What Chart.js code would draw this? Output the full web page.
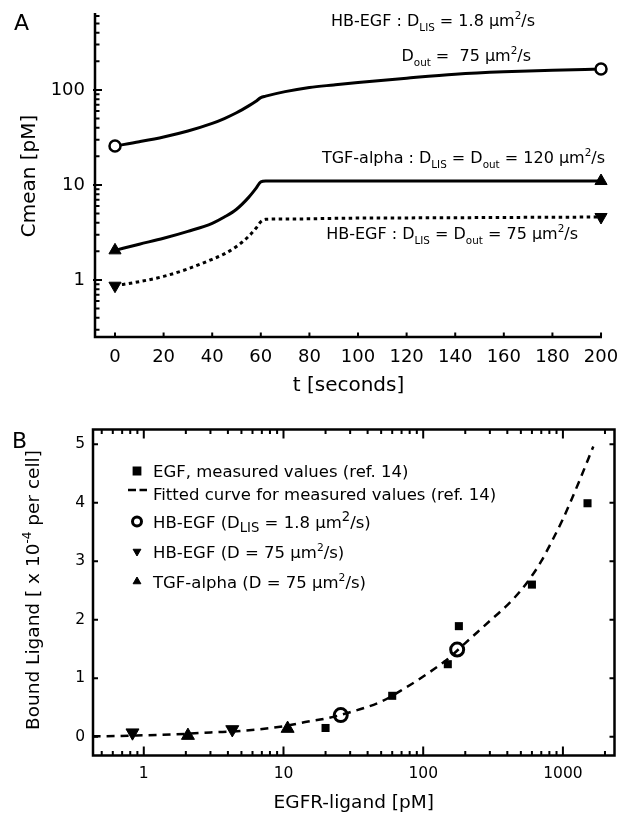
<!DOCTYPE html>
<html>
<head>
<meta charset="utf-8">
<script src="https://cdn.jsdelivr.net/npm/chart.js@4.4.0/dist/chart.umd.min.js"></script>
<style>
body{margin:0;background:#fff;}
#wrap{position:relative;width:624px;height:813px;}
canvas{position:absolute;left:0;}
#cA{top:0;width:624px;height:400px;}
#cB{top:400px;width:624px;height:413px;}
</style>
</head>
<body>
<div id="wrap">
<canvas id="cA" width="624" height="400"></canvas>
<canvas id="cB" width="624" height="413"></canvas>
</div>
<script>
// ---- panel A : Cmean vs time ----
var timeA   = [0, 10, 20, 30, 40, 45, 50, 55, 58, 60, 62, 70, 80, 90, 100, 120, 140, 160, 180, 200];
var hbSlowA = [25.7, 28.5, 32, 37, 44.5, 50, 57.5, 68, 76, 83, 86, 96, 106, 113, 120, 133, 146, 155, 161, 166];
var tgfA    = [2.05, 2.38, 2.75, 3.25, 3.95, 4.6, 5.55, 7.4, 9.2, 10.8, 11, 11, 11, 11, 11, 11, 11, 11, 11, 11];
var hbFastA = [0.87, 0.96, 1.09, 1.31, 1.65, 1.88, 2.25, 2.88, 3.5, 4.1, 4.35, 4.38, 4.4, 4.45, 4.48, 4.5, 4.52, 4.55, 4.57, 4.6];
var xTicksA = [0, 20, 40, 60, 80, 100, 120, 140, 160, 180, 200];
var yTicksA = [1, 10, 100];

// ---- panel B : bound ligand vs EGFR-ligand ----
var egfX    = [20, 60, 150, 180, 600, 1500];
var egfY    = [0.15, 0.70, 1.24, 1.89, 2.60, 3.99];
var fitX    = [0.43, 0.5, 1, 2, 3, 5, 10, 15, 20, 30, 50, 75, 100, 150, 200, 300, 400, 500, 600, 700, 850, 1000, 1300, 1650];
var fitY    = [0.01, 0.01, 0.025, 0.05, 0.075, 0.10, 0.18, 0.26, 0.31, 0.42, 0.60, 0.84, 1.03, 1.33, 1.60, 1.98, 2.25, 2.5, 2.75, 3.0, 3.38, 3.72, 4.35, 4.96];
var hbSlowX = [25.7, 175];
var hbSlowY = [0.37, 1.49];
var hbFastX = [0.83, 4.3];
var hbFastY = [0.07, 0.125];
var tgfX    = [2.07, 10.7];
var tgfY    = [0.02, 0.14];
var xTicksB = [1, 10, 100, 1000];
var yTicksB = [0, 1, 2, 3, 4, 5];

Chart.defaults.font.family = 'DejaVu Sans';
Chart.defaults.color = '#000';

function pts(xs, ys) {
    return xs.map(function (x, i) { return {x: x, y: ys[i]}; });
}
function ends(r, n) {
    return function (c) { return (c.dataIndex === 0 || c.dataIndex === n - 1) ? r : 0; };
}
function noPad(s) {
    s.paddingTop = 0; s.paddingBottom = 0; s.paddingLeft = 0; s.paddingRight = 0;
}

// text with sub/superscripts
function rich(ctx, parts, x, y, size, align, subScale) {
    subScale = subScale || 0.65;
    var fonts = parts.map(function (p) {
        return (p[1] ? size * subScale : size) + 'px "DejaVu Sans"';
    });
    var w = parts.map(function (p, i) { ctx.font = fonts[i]; return ctx.measureText(p[0]).width; });
    var total = w.reduce(function (a, b) { return a + b; }, 0);
    var cx = align === 'right' ? x - total : (align === 'center' ? x - total / 2 : x);
    ctx.textAlign = 'left';
    ctx.textBaseline = 'alphabetic';
    parts.forEach(function (p, i) {
        ctx.font = fonts[i];
        var dy = p[1] === 'sub' ? size * 0.3 : (p[1] === 'sup' ? -size * 0.42 : 0);
        ctx.fillText(p[0], cx, y + dy);
        cx += w[i];
    });
}

function logTicks(lo, hi) {
    var out = [];
    for (var e = -2; e <= 4; e++) {
        for (var k = 1; k <= 9; k++) {
            var v = k * Math.pow(10, e);
            if (v >= lo && v <= hi) out.push({v: v, major: k === 1});
        }
    }
    return out;
}

var axesA = {
    id: 'axesA',
    afterDraw: function (chart) {
        var ctx = chart.ctx, a = chart.chartArea;
        var sx = chart.scales.x, sy = chart.scales.y;
        ctx.save();
        ctx.strokeStyle = '#000';
        ctx.lineWidth = 2.5;
        ctx.beginPath();
        ctx.moveTo(a.left, a.top - 2);
        ctx.lineTo(a.left, a.bottom);
        ctx.lineTo(a.right, a.bottom);
        ctx.stroke();
        ctx.lineWidth = 2;
        ctx.beginPath();
        logTicks(sy.min, sy.max).forEach(function (t) {
            var y = sy.getPixelForValue(t.v);
            ctx.moveTo(a.left - (t.major ? 2 : 0), y);
            ctx.lineTo(a.left + (t.major ? 7 : 4.5), y);
        });
        xTicksA.forEach(function (v) {
            var x = sx.getPixelForValue(v);
            ctx.moveTo(x, a.bottom);
            ctx.lineTo(x, a.bottom - 4.5);
        });
        ctx.stroke();

        ctx.fillStyle = '#000';
        ctx.font = '22px "DejaVu Sans"';
        ctx.textAlign = 'left';
        ctx.textBaseline = 'alphabetic';
        ctx.fillText('A', 14, 30);

        ctx.font = '20px "DejaVu Sans"';
        ctx.textAlign = 'center';
        ctx.fillText('t [seconds]', (a.left + a.right) / 2, 391);
        ctx.save();
        ctx.translate(35, (a.top + a.bottom) / 2);
        ctx.rotate(-Math.PI / 2);
        ctx.fillText('Cmean [pM]', 0, 0);
        ctx.restore();

        rich(ctx, [['HB-EGF : D'], ['LIS', 'sub'], [' = 1.8 \u03bcm'], ['2', 'sup'], ['/s']], 535, 26, 16, 'right');
        rich(ctx, [['D'], ['out', 'sub'], [' =  75 \u03bcm'], ['2', 'sup'], ['/s']], 531, 61, 16, 'right');
        rich(ctx, [['TGF-alpha : D'], ['LIS', 'sub'], [' = D'], ['out', 'sub'], [' = 120 \u03bcm'], ['2', 'sup'], ['/s']], 605, 163, 16, 'right');
        rich(ctx, [['HB-EGF : D'], ['LIS', 'sub'], [' = D'], ['out', 'sub'], [' = 75 \u03bcm'], ['2', 'sup'], ['/s']], 578, 239, 16, 'right');
        ctx.restore();
    }
};

var nA = timeA.length;
new Chart(document.getElementById('cA'), {
    type: 'line',
    data: {
        datasets: [
            {
                data: pts(timeA, hbSlowA), borderColor: '#000', borderWidth: 3,
                cubicInterpolationMode: 'monotone', clip: false,
                pointStyle: 'circle', pointRadius: ends(5.5, nA),
                pointBackgroundColor: '#fff', pointBorderColor: '#000', pointBorderWidth: 2.5
            },
            {
                data: pts(timeA, tgfA), borderColor: '#000', borderWidth: 3,
                cubicInterpolationMode: 'monotone', clip: false,
                pointStyle: 'triangle', pointRadius: ends(7, nA),
                pointBackgroundColor: '#000', pointBorderColor: '#000', pointBorderWidth: 1
            },
            {
                data: pts(timeA, hbFastA), borderColor: '#000', borderWidth: 3, borderDash: [3.5, 3.5],
                cubicInterpolationMode: 'monotone', clip: false,
                pointStyle: 'triangle', rotation: 180, pointRadius: ends(7, nA),
                pointBackgroundColor: '#000', pointBorderColor: '#000', pointBorderWidth: 1
            }
        ]
    },
    options: {
        responsive: false,
        animation: false,
        layout: {padding: {top: 15, right: 22, left: 0, bottom: 0}},
        plugins: {legend: {display: false}, tooltip: {enabled: false}},
        scales: {
            x: {
                type: 'linear', min: -8.23, max: 200.4,
                afterBuildTicks: function (s) { s.ticks = xTicksA.map(function (v) { return {value: v}; }); },
                afterFit: function (s) { s.height = 63; noPad(s); },
                grid: {display: false, drawTicks: false},
                border: {display: false},
                ticks: {font: {size: 18}, color: '#000', padding: 10, maxRotation: 0, autoSkip: false}
            },
            y: {
                type: 'logarithmic', min: 0.251, max: 615,
                afterBuildTicks: function (s) { s.ticks = yTicksA.map(function (v) { return {value: v}; }); },
                afterFit: function (s) { s.width = 95; noPad(s); },
                grid: {display: false, drawTicks: false},
                border: {display: false},
                ticks: {font: {size: 18}, color: '#000', padding: 10, autoSkip: false,
                    callback: function (v) { return String(v); }}
            }
        }
    },
    plugins: [axesA]
});

var axesB = {
    id: 'axesB',
    afterDraw: function (chart) {
        var ctx = chart.ctx, a = chart.chartArea;
        var sx = chart.scales.x, sy = chart.scales.y;
        ctx.save();
        ctx.strokeStyle = '#000';
        ctx.lineWidth = 2.5;
        ctx.strokeRect(a.left, a.top, a.right - a.left, a.bottom - a.top);
        ctx.lineWidth = 2;
        ctx.beginPath();
        logTicks(sx.min, sx.max).forEach(function (t) {
            var x = sx.getPixelForValue(t.v);
            var len = t.major ? 9 : 4.5;
            ctx.moveTo(x, a.bottom); ctx.lineTo(x, a.bottom - len);
            ctx.moveTo(x, a.top); ctx.lineTo(x, a.top + len);
        });
        yTicksB.forEach(function (v) {
            var y = sy.getPixelForValue(v);
            ctx.moveTo(a.left, y); ctx.lineTo(a.left + 5, y);
            ctx.moveTo(a.right, y); ctx.lineTo(a.right - 5, y);
        });
        ctx.stroke();

        ctx.fillStyle = '#000';
        ctx.font = '22px "DejaVu Sans"';
        ctx.textAlign = 'left';
        ctx.fillText('B', 12, 48);

        ctx.font = '18.5px "DejaVu Sans"';
        ctx.textAlign = 'center';
        ctx.fillText('EGFR-ligand [pM]', (a.left + a.right) / 2, 408);
        ctx.save();
        ctx.translate(39, 190);
        ctx.rotate(-Math.PI / 2);
        rich(ctx, [['Bound Ligand [ x 10'], ['-4', 'sup'], [' per cell]']], 0, 0, 18.5, 'center');
        ctx.restore();

        // legend
        var lx = 137, tx = 153, fs = 16.5;
        var rows = [71, 94, 121.5, 151.5, 181.5];
        var H = Chart.helpers;
        ctx.fillStyle = '#000';
        ctx.strokeStyle = '#000';
        H.drawPoint(ctx, {pointStyle: 'rect', radius: 4.8, borderWidth: 1}, lx, rows[0]);
        ctx.save();
        ctx.lineWidth = 2.5;
        ctx.setLineDash([8, 3.5]);
        ctx.beginPath();
        ctx.moveTo(128, rows[1] - 4); ctx.lineTo(147, rows[1] - 4);
        ctx.stroke();
        ctx.restore();
        ctx.fillStyle = '#fff';
        ctx.lineWidth = 3;
        H.drawPoint(ctx, {pointStyle: 'circle', radius: 4.5, borderWidth: 3}, lx, rows[2]);
        ctx.fillStyle = '#000';
        ctx.lineWidth = 1;
        H.drawPoint(ctx, {pointStyle: 'triangle', radius: 4.5, rotation: 180, borderWidth: 1}, lx, rows[3]);
        H.drawPoint(ctx, {pointStyle: 'triangle', radius: 4.5, borderWidth: 1}, lx, rows[4]);

        ctx.fillStyle = '#000';
        var off = 6;
        rich(ctx, [['EGF, measured values (ref. 14)']], tx, rows[0] + off, fs, 'left');
        rich(ctx, [['Fitted curve for measured values (ref. 14)']], tx, rows[1] + off, fs, 'left');
        rich(ctx, [['HB-EGF (D'], ['LIS', 'sub'], [' = 1.8 \u03bcm'], ['2', 'sup'], ['/s)']], tx, rows[2] + off, fs, 'left', 0.8);
        rich(ctx, [['HB-EGF (D = 75 \u03bcm'], ['2', 'sup'], ['/s)']], tx, rows[3] + off, fs, 'left');
        rich(ctx, [['TGF-alpha (D = 75 \u03bcm'], ['2', 'sup'], ['/s)']], tx, rows[4] + off, fs, 'left');
        ctx.restore();
    }
};

new Chart(document.getElementById('cB'), {
    type: 'line',
    data: {
        datasets: [
            {
                data: pts(fitX, fitY), borderColor: '#000', borderWidth: 2.5, borderDash: [8, 6],
                cubicInterpolationMode: 'monotone', pointRadius: 0
            },
            {
                data: pts(egfX, egfY), showLine: false, clip: false,
                pointStyle: 'rect', pointRadius: 5.7,
                pointBackgroundColor: '#000', pointBorderColor: '#000', pointBorderWidth: 0
            },
            {
                data: pts(hbSlowX, hbSlowY), showLine: false, clip: false,
                pointStyle: 'circle', pointRadius: 6.5,
                pointBackgroundColor: '#fff', pointBorderColor: '#000', pointBorderWidth: 3
            },
            {
                data: pts(hbFastX, hbFastY), showLine: false, clip: false,
                pointStyle: 'triangle', rotation: 180, pointRadius: 7.5,
                pointBackgroundColor: '#000', pointBorderColor: '#000', pointBorderWidth: 1
            },
            {
                data: pts(tgfX, tgfY), showLine: false, clip: false,
                pointStyle: 'triangle', pointRadius: 7.5,
                pointBackgroundColor: '#000', pointBorderColor: '#000', pointBorderWidth: 1
            }
        ]
    },
    options: {
        responsive: false,
        animation: false,
        layout: {padding: {top: 29.5, right: 8, left: 0, bottom: 0}},
        plugins: {legend: {display: false}, tooltip: {enabled: false}},
        scales: {
            x: {
                type: 'logarithmic', min: 0.433, max: 2340,
                afterBuildTicks: function (s) { s.ticks = xTicksB.map(function (v) { return {value: v}; }); },
                afterFit: function (s) { s.height = 57.5; noPad(s); },
                grid: {display: false, drawTicks: false},
                border: {display: false},
                ticks: {font: {size: 15.5}, color: '#000', padding: 9, maxRotation: 0, autoSkip: false,
                    callback: function (v) { return String(v); }}
            },
            y: {
                type: 'linear', min: -0.32, max: 5.25,
                afterBuildTicks: function (s) { s.ticks = yTicksB.map(function (v) { return {value: v}; }); },
                afterFit: function (s) { s.width = 93; noPad(s); },
                grid: {display: false, drawTicks: false},
                border: {display: false},
                ticks: {font: {size: 15.5}, color: '#000', padding: 8, autoSkip: false}
            }
        }
    },
    plugins: [axesB]
});
</script>
</body>
</html>
